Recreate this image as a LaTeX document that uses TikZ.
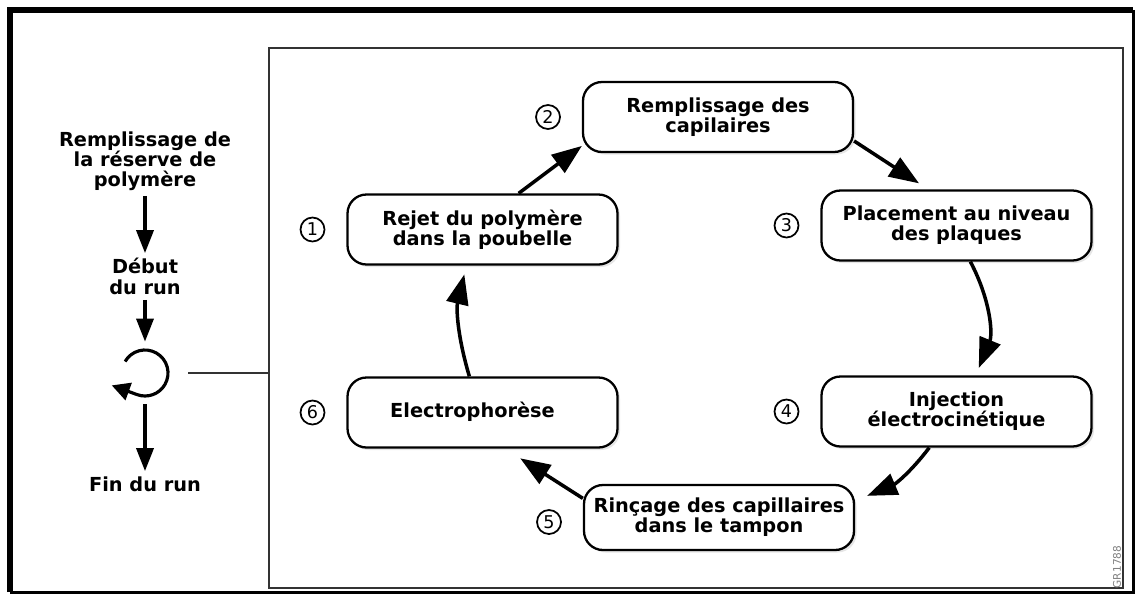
\documentclass[tikz,border=0pt]{standalone}
\usepackage{fontspec}
\setmainfont{DejaVu Sans}
\usetikzlibrary{arrows.meta,positioning,calc,shadows}
\definecolor{framegrey}{HTML}{333333}
\definecolor{tagtext}{HTML}{808080}
\tikzset{
  stepbox/.style={rectangle,rounded corners=0.38cm,draw=black,line width=1.3pt,fill=white,align=center,minimum width=5.4cm,minimum height=1.4cm,inner sep=0pt,font=\fontsize{11}{11.5}\selectfont\bfseries,drop shadow={shadow xshift=0.05cm,shadow yshift=-0.05cm,opacity=0.2}},
  numtag/.style={circle,draw=black,line width=1pt,minimum size=0.48cm,inner sep=0pt,font=\fontsize{10}{10}\selectfont},
  sidetext/.style={align=center,inner sep=0.1cm,font=\fontsize{11}{11.5}\selectfont\bfseries},
  flowarrow/.style={-{Triangle[length=0.6cm,width=0.44cm]},line width=2pt},
  sidearrow/.style={-{Triangle[length=0.46cm,width=0.34cm]},line width=2pt},
  frameline/.style={draw=framegrey,line width=1.2pt}
}
\begin{document}
\begin{tikzpicture}[on grid]
  \useasboundingbox (0,0) rectangle (22.72,-11.92);
  % outer frame
  \draw[line width=0.12cm] (0.2,-11.84) -- (0.2,-0.2) -- (22.66,-0.2);
  \draw[line width=0.06cm] (22.66,-0.2) -- (22.66,-11.84) -- (0.2,-11.84);
  % run frame
  \node[frameline,minimum width=17.08cm,minimum height=10.8cm] (frame) at (13.92,-6.36) {};

  % left column
  \node[sidetext] (fill) at (2.9,-3.22) {Remplissage de\\la réserve de\\polymère};
  \node[sidetext] (debut) at (2.9,-5.53) {Début\\du run};
  \node[circle,minimum size=1.24cm,inner sep=0pt] (cyc) at (2.9,-7.46) {};
  \node[sidetext] (fin) at (2.9,-9.68) {Fin du run};
  \coordinate[right=0.24cm of cyc.east] (tap);

  \draw[sidearrow] (fill.south) -- (debut.north);
  \draw[sidearrow] (debut.south) -- (cyc.north);
  \draw[sidearrow] (cyc.south) -- (fin.north);
  \draw[line width=1.8pt,-{Triangle[length=0.36cm,width=0.36cm]}] ($(cyc.center)+(150:0.46)$) arc[start angle=150,end angle=-110,radius=0.46] -- ++(160:0.54);
  \draw[frameline] (tap) -- (tap -| frame.west);

  % cycle steps
  \node[stepbox] (reject) at (9.65,-4.59) {Rejet du polymère\\dans la poubelle};
  \node[stepbox, above right=2.25cm and 4.71cm of reject] (fillcap) {Remplissage des\\capilaires};
  \node[stepbox, below right=2.17cm and 4.77cm of fillcap] (plates) {Placement au niveau\\des plaques};
  \node[stepbox, below=3.72cm of plates] (inject) {Injection\\électrocinétique};
  \node[stepbox, below=3.66cm of reject] (electro) {\raisebox{0.1cm}{Electrophorèse}\hspace*{0.4cm}};
  \node[stepbox, minimum height=1.3cm, below right=2.1cm and 4.73cm of electro] (rinse) {Rinçage des capillaires\\dans le tampon};

  \node[numtag, left=3.4cm of reject] (n1) {1};
  \node[numtag, left=3.4cm of fillcap] (n2) {2};
  \node[numtag, left=3.4cm of plates] (n3) {3};
  \node[numtag, left=3.4cm of inject] (n4) {4};
  \node[numtag, left=3.4cm of rinse, yshift=-0.09cm] (n5) {5};
  \node[numtag, left=3.4cm of electro] (n6) {6};

  \draw[flowarrow] (reject.45) -- (fillcap.192);
  \draw[flowarrow, shorten >=0.22cm] (fillcap.-10) -- (plates.128);
  \draw[flowarrow, shorten >=0.16cm] (plates.-69) to[bend left=25] (inject.62);
  \draw[flowarrow] (inject.233) to[bend left=15] ($(rinse.north east)+(0.24,-0.24)$);
  \draw[flowarrow, shorten >=0.36cm] (rinse.172) -- (electro.-58);
  \draw[flowarrow, shorten >=0.18cm] (electro.110) to[bend left=15] (reject.-114);

  \node[rotate=90, inner sep=0pt, text=tagtext, font=\fontsize{6}{6}\selectfont] (grtag) at (22.34,-11.34) {GR1788};
\end{tikzpicture}
\end{document}
